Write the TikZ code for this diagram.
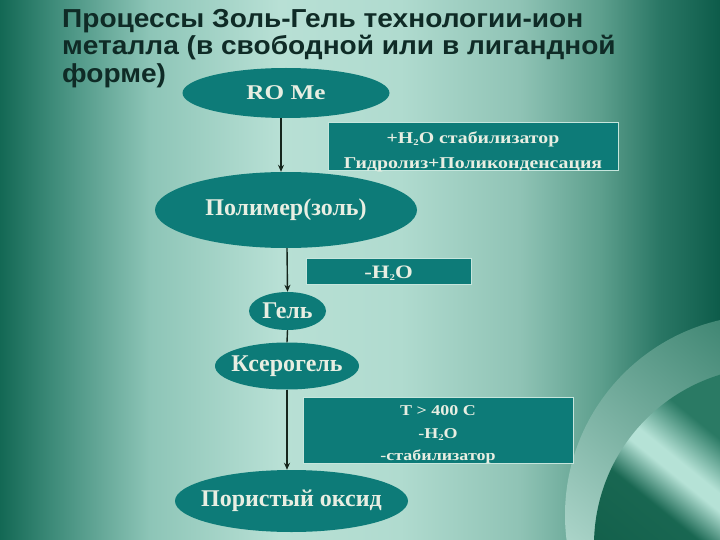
\documentclass[tikz,border=0pt]{standalone}
\usepackage{fontspec}
\setmainfont{Liberation Serif}
\newfontfamily\titlefont[FakeStretch=1.08]{Liberation Sans}
\newfontfamily\widerserif[FakeStretch=1.2]{Liberation Serif}
\usetikzlibrary{shapes.geometric,arrows.meta}
\definecolor{bgA}{HTML}{136854}
\definecolor{bgB}{HTML}{3C8A78}
\definecolor{bgC}{HTML}{8DC5B7}
\definecolor{bgD}{HTML}{B8E0D5}
\definecolor{bgE}{HTML}{B0DBCF}
\definecolor{bgF}{HTML}{8FC3B5}
\definecolor{bgG}{HTML}{5D9F8D}
\definecolor{bgH}{HTML}{2A7765}
\definecolor{bgI}{HTML}{0D5C4A}
\definecolor{teal1}{HTML}{0D7B78}
\definecolor{ntext}{HTML}{E8EEE2}
\definecolor{titlec}{HTML}{0F2B26}
\definecolor{arrc}{HTML}{15251C}
\definecolor{sphD}{HTML}{0D5A45}
\definecolor{sphM}{HTML}{2A7A64}
\definecolor{sphL}{HTML}{B5E2D6}
\pgfdeclarehorizontalshading{bgshade}{100bp}{color(0bp)=(bgA); color(25bp)=(bgA); color(28.5bp)=(bgB); color(35.4bp)=(bgC); color(44.4bp)=(bgD); color(52.8bp)=(bgE); color(61.1bp)=(bgF); color(66.7bp)=(bgG); color(70.8bp)=(bgH); color(75bp)=(bgI); color(100bp)=(bgI)}
\pgfdeclareverticalshading{streak}{100bp}{color(0bp)=(sphD); color(25bp)=(sphD); color(44bp)=(sphD!60!sphM); color(49bp)=(sphL); color(51bp)=(sphL); color(57bp)=(sphM); color(75bp)=(sphM); color(100bp)=(sphM)}
\newcommand{\subtwo}{\raisebox{-0.25ex}{\fontsize{9}{9}\selectfont 2}}
\tikzset{
  ell/.style={ellipse, fill=teal1, inner sep=0pt},
  etext/.style={inner sep=0pt, text=ntext, font=\bfseries\fontsize{24}{28}\selectfont},
  cbox/.style={rectangle, fill=teal1, draw=bgD!80!white, line width=0.8pt, inner sep=0pt},
  btext/.style={inner sep=0pt, text=ntext, align=center},
  arr/.style={draw=arrc, line width=1.4pt, -{Stealth[length=7pt,width=6pt]}},
  plainline/.style={draw=arrc, line width=1.4pt},
  ttl/.style={anchor=base west, inner sep=0pt, text=titlec, font=\titlefont\bfseries\fontsize{26}{30}\selectfont}
}
\begin{document}
\begin{tikzpicture}[x=1pt,y=-1pt]
\useasboundingbox (0,0) rectangle (720,540);
\shade[shading=bgshade] (0,0) rectangle (720,540);
\begin{scope}
  \clip (0,0) rectangle (720,540);
  \shade[top color=sphM!70!sphD, bottom color=bgD!90!white, shading angle=-40] (765,515) circle (200);
  \shade[shading=streak, shading angle=-39] (772,545) circle (178);
\end{scope}
\node[ttl] (title1) at (62,27.5) {Процессы Золь-Гель технологии-ион};
\node[ttl] (title2) at (62,55) {металла (в свободной или в лигандной};
\node[ttl] (title3) at (62,82.5) {форме)};

\node[ell, minimum width=207pt, minimum height=50pt] (rome) at (286,93) {};
\node[etext, font=\widerserif\bfseries\fontsize{21}{24}\selectfont] (romet) at (rome.center) {RO Me};

\node[cbox, minimum width=290pt, minimum height=48pt] (box1) at (473,146) {};
\node[btext, font=\widerserif\bfseries\fontsize{16.5}{25}\selectfont] (box1t) at ([yshift=-6pt]box1.center) {+H\subtwo O стабилизатор\\Гидролиз+Поликонденсация};

\node[ell, minimum width=262pt, minimum height=76pt] (poly) at (286,210) {};
\node[etext] (polyt) at (poly.center) {Полимер(золь)};

\node[cbox, minimum width=165pt, minimum height=26pt] (box2) at (388.5,271) {};
\node[btext, font=\widerserif\bfseries\fontsize{19}{22}\selectfont] (box2t) at ([yshift=-2.5pt]box2.center) {-H\subtwo O};

\node[ell, minimum width=77pt, minimum height=38pt] (gel) at (287.5,311) {};
\node[etext] (gelt) at (gel.center) {Гель};
\node[ell, minimum width=144pt, minimum height=47pt] (xero) at (287,366) {};
\node[etext] (xerot) at (xero.center) {Ксерогель};

\node[cbox, minimum width=270pt, minimum height=66pt] (box3) at (438,430) {};
\node[btext, font=\widerserif\bfseries\fontsize{15}{22.5}\selectfont] (box3t) at ([yshift=-5pt]box3.center) {T > 400 C\\-H\subtwo O\\-стабилизатор};

\node[ell, minimum width=233pt, minimum height=62pt] (oxide) at (291.5,501) {};
\node[etext] (oxidet) at (oxide.center) {Пористый оксид};

\draw[arr] ([xshift=-5pt]rome.south) -- ([xshift=-5pt]rome.south |- poly.north);
\draw[arr] ([xshift=1pt]poly.south) -- (gel.north);
\draw[plainline] (gel.south) -- (xero.north);
\draw[arr] (xero.south) -- (xero.south |- oxide.north);
\end{tikzpicture}
\end{document}
